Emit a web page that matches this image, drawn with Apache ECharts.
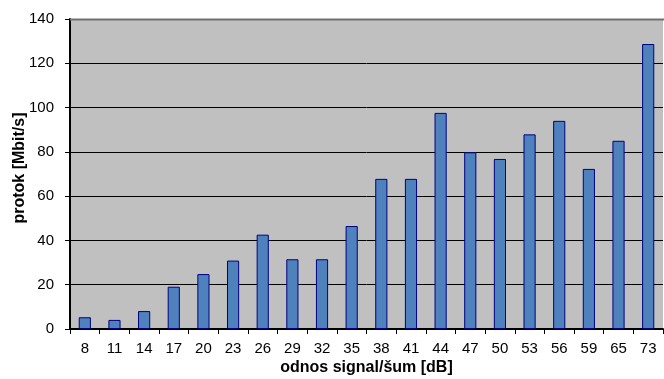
<!DOCTYPE html>
<html>
<head>
<meta charset="utf-8">
<script src="https://cdn.jsdelivr.net/npm/echarts@6/dist/echarts.min.js"></script>
<style>
  html, body { margin: 0; padding: 0; background: #ffffff; }
  #chart { width: 664px; height: 379px; }
</style>
</head>
<body>
<div id="chart"></div>
<script>
// Signal-to-noise ratio categories [dB]
const snrLabels = ['8', '11', '14', '17', '20', '23', '26', '29', '32', '35', '38', '41', '44', '47', '50', '53', '56', '59', '65', '73'];
// Measured throughput [Mbit/s]
const throughput = [5.3, 4.1, 8.1, 19.1, 24.8, 30.9, 42.6, 31.5, 31.5, 46.5, 67.8, 67.8, 97.6, 79.8, 76.8, 87.9, 94.0, 72.3, 85.0, 128.7];
const yTicks = { min: 0, max: 140, interval: 20 };

const chart = echarts.init(document.getElementById('chart'));
const font = 'Liberation Sans, Arial, sans-serif';

chart.setOption({
  animation: false,
  textStyle: { fontFamily: font },
  grid: {
    left: 70, right: 1, top: 19, bottom: 50,
    containLabel: false,
    outerBoundsMode: 'none',
    show: true, backgroundColor: '#c0c0c0', borderColor: '#808080', borderWidth: 0
  },
  xAxis: {
    type: 'category',
    data: snrLabels,
    name: 'odnos signal/šum [dB]',
    nameLocation: 'middle',
    nameGap: 31,
    nameMoveOverlap: false,
    nameTextStyle: { fontWeight: 'bold', fontSize: 16, color: '#000', fontFamily: font },
    axisLine: { lineStyle: { color: '#000', width: 2 } },
    axisTick: { show: true, alignWithLabel: false, length: 5, lineStyle: { color: '#000', width: 1 } },
    axisLabel: { color: '#000', fontSize: 15, margin: 12, fontFamily: font },
    splitLine: { show: false }
  },
  yAxis: {
    type: 'value',
    min: yTicks.min, max: yTicks.max, interval: yTicks.interval,
    name: 'protok [Mbit/s]',
    nameLocation: 'middle',
    nameGap: 42,
    nameMoveOverlap: false,
    nameTextStyle: { fontWeight: 'bold', fontSize: 16, color: '#000', fontFamily: font, padding: [0, 0, 0, 12] },
    axisLine: { show: true, lineStyle: { color: '#000', width: 2 } },
    axisTick: { show: true, length: 5, lineStyle: { color: '#000', width: 1 } },
    axisLabel: { color: '#000', fontSize: 15, margin: 16, fontFamily: font },
    splitLine: { show: true, lineStyle: { color: '#000', width: 1 } }
  },
  series: [{
    type: 'bar',
    data: throughput,
    barWidth: '41%',
    itemStyle: { color: '#4f81bd', borderColor: '#000080', borderWidth: 1 }
  }],
  graphic: [{
    type: 'line',
    shape: { x1: 70, y1: 19.5, x2: 664, y2: 19.5 },
    style: { stroke: '#707070', lineWidth: 2 },
    z: 10
  }]
});
</script>
</body>
</html>
